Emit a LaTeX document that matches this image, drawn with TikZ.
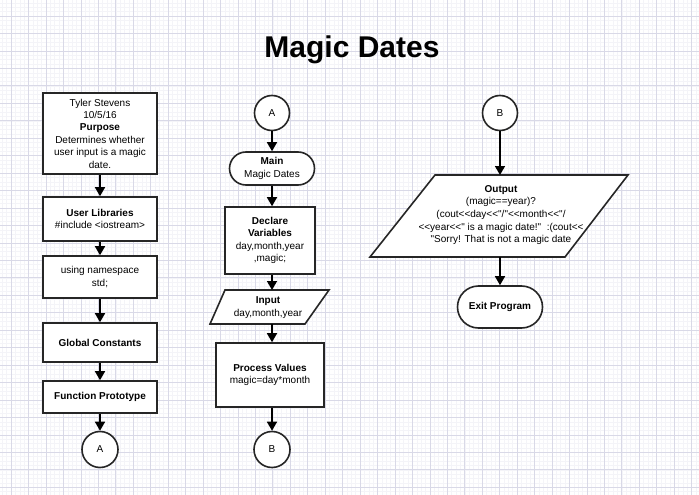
\documentclass[tikz,border=0pt]{standalone}
\usepackage{fontspec}
\setmainfont{Liberation Sans}[Ligatures=TeXOff]
\usetikzlibrary{arrows.meta}
\definecolor{gmaj}{HTML}{D9D9E7}
\definecolor{gmin}{HTML}{F4F4F8}
\definecolor{edge}{HTML}{262626}
\begin{document}
\begin{tikzpicture}[x=1pt,y=-1pt,
  every node/.style={font=\fontsize{10}{12.4}\selectfont, align=center, inner sep=0pt},
  box/.style={draw=edge, line width=1.6pt, fill=white, rectangle},
  conn/.style={draw=edge, line width=1.6pt, fill=white, circle, minimum size=36pt},
  arr/.style={draw=black, line width=1.6pt, -{Triangle[length=9pt,width=10pt]}},
  shp/.style={draw=edge, line width=1.6pt, fill=white, line join=miter}]
\useasboundingbox (0,0) rectangle (699,495);
\fill[white] (0,0) rectangle (699,495);
% grid
\foreach \i in {0,...,164} {
  \draw[gmin, line width=0.4pt] ({11+4.3625*(\i-3)},0) -- ++(0,495);
}
\foreach \i in {0,...,118} {
  \draw[gmin, line width=0.4pt] (0,{16+4.3625*(\i-4)}) -- ++(699,0);
}
\foreach \i in {0,...,40} {
  \draw[gmaj, line width=0.6pt] ({11+17.45*\i},0) -- ++(0,495);
}
\foreach \i in {0,...,28} {
  \draw[gmaj, line width=0.6pt] (0,{16+17.45*(\i-1)}) -- ++(699,0);
}
% title
\node[font=\fontsize{30}{36}\selectfont\bfseries] (title) at (352,50) {Magic Dates};
% left column
\node[box, minimum width=114pt, minimum height=81pt] (info) at (100,133.5)
  {Tyler Stevens\\10/5/16\\\textbf{Purpose}\\Determines whether\\user input is a magic\\date.};
\node[box, minimum width=114pt, minimum height=44pt] (lib) at (100,219)
  {\textbf{User Libraries}\\\#include <iostream>};
\node[box, minimum width=114pt, minimum height=42pt] (ns) at (100,277)
  {using namespace\\std;};
\node[box, minimum width=114pt, minimum height=39pt] (gc) at (100,342.5)
  {\textbf{Global Constants}};
\node[box, minimum width=114pt, minimum height=32pt] (fp) at (100,397)
  {\textbf{Function Prototype}};
\node[conn] (ca1) at (100,449.5) {A};
\draw[arr] (info) -- (lib);
\draw[arr] (lib) -- (ns);
\draw[arr] (ns) -- (gc);
\draw[arr] (gc) -- (fp);
\draw[arr] (fp) -- (ca1);
% middle column
\node[conn, minimum size=35pt] (ca2) at (272,113) {A};
\node[box, rounded corners=16.5pt, minimum width=85pt, minimum height=33pt] (main) at (272,168.5)
  {\textbf{Main}\\Magic Dates};
\node[box, minimum width=90pt, minimum height=67pt] (decl) at (270,240.5)
  {\textbf{Declare}\\\textbf{Variables}\\day,month,year\\,magic;};
\draw[shp] (225,290) -- (329,290) -- (305,324) -- (210,324) -- cycle;
\coordinate (inTop) at (272,290);
\coordinate (inBot) at (272,324);
\node (inp) at (268,307.5) {\textbf{Input}\\day,month,year};
\node[box, minimum width=108pt, minimum height=64pt] (proc) at (270,375)
  {\textbf{Process Values}\\magic=day*month};
\node[conn] (cb1) at (272,449.5) {B};
\draw[arr] (ca2) -- (main);
\draw[arr] (main) -- (main |- decl.north);
\draw[arr] (decl.south -| inTop) -- (inTop);
\draw[arr] (inBot) -- (proc.north -| inBot);
\draw[arr] (proc.south -| cb1) -- (cb1);
% right column
\node[conn, minimum size=35pt] (cb2) at (500,113) {B};
\draw[shp] (435,175) -- (628,175) -- (565,257) -- (370,257) -- cycle;
\coordinate (outTop) at (500,175);
\coordinate (outBot) at (500,257);
\node[font=\fontsize{10}{12.6}\selectfont] (outp) at (501,215)
  {\textbf{Output}\\(magic==year)?\\(cout<<day<<"/"<<month<<"/\\
   <<year<<" is a magic date!"\ \ :(cout<<\\"Sorry! That is not a magic date};
\node[box, rounded corners=21pt, minimum width=85pt, minimum height=42pt] (exit) at (500,307)
  {\textbf{Exit Program}};
\draw[arr] (cb2) -- (outTop);
\draw[arr] (outBot) -- (exit);
\end{tikzpicture}
\end{document}
